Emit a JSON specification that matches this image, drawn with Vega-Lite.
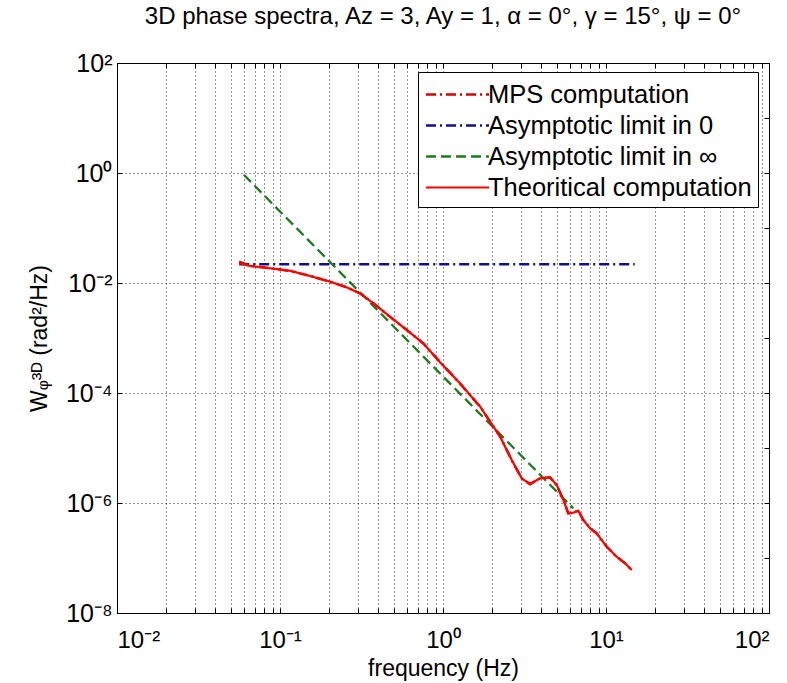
{
  "$schema": "https://vega.github.io/schema/vega-lite/v6.json",
  "autosize": "none",
  "width": 652,
  "height": 550,
  "padding": {"left": 117, "top": 63, "right": 18, "bottom": 70},
  "background": "white",
  "title": {
    "text": "3D phase spectra, Az = 3, Ay = 1, α = 0°, γ = 15°, ψ = 0°",
    "font": "Liberation Sans",
    "fontSize": 24,
    "fontWeight": "normal",
    "color": "black",
    "anchor": "middle",
    "frame": "group",
    "offset": 22
  },
  "config": {
    "view": {"stroke": "black", "strokeWidth": 1},
    "axis": {
      "labelFont": "Liberation Sans",
      "titleFont": "Liberation Sans",
      "labelColor": "black",
      "titleColor": "black",
      "titleFontWeight": "normal",
      "domainColor": "black",
      "tickColor": "black",
      "gridColor": "black",
      "gridDash": [1, 3],
      "gridOpacity": 0.85,
      "gridWidth": 1
    },
    "legend": {
      "orient": "none",
      "legendX": 301,
      "legendY": 9,
      "fillColor": "white",
      "strokeColor": "black",
      "padding": 6,
      "labelFont": "Liberation Sans",
      "labelFontSize": 25.5,
      "labelColor": "black",
      "labelLimit": 500,
      "symbolType": "M-2.1,0H2.1",
      "symbolSize": 900,
      "symbolOffset": 17,
      "symbolStrokeWidth": 2.5,
      "rowPadding": 1,
      "labelOffset": 14
    }
  },
  "datasets": {
    "curves": [
      {"series": "Asymptotic limit in 0", "f": 0.0562, "W": 0.0219},
      {"series": "Asymptotic limit in 0", "f": 15.0, "W": 0.0219},
      {"series": "Asymptotic limit in ∞", "f": 0.06, "W": 0.927},
      {"series": "Asymptotic limit in ∞", "f": 6.3, "W": 8.0e-7},
      {"series": "MPS computation", "f": 0.0562, "W": 0.0245},
      {"series": "MPS computation", "f": 0.0655, "W": 0.0207},
      {"series": "MPS computation", "f": 0.0869, "W": 0.0186},
      {"series": "MPS computation", "f": 0.115, "W": 0.0166},
      {"series": "MPS computation", "f": 0.153, "W": 0.0135},
      {"series": "MPS computation", "f": 0.203, "W": 0.0105},
      {"series": "MPS computation", "f": 0.256, "W": 0.00840},
      {"series": "MPS computation", "f": 0.310, "W": 0.00645},
      {"series": "MPS computation", "f": 0.374, "W": 0.00430},
      {"series": "MPS computation", "f": 0.473, "W": 0.00242},
      {"series": "MPS computation", "f": 0.598, "W": 0.00141},
      {"series": "MPS computation", "f": 0.757, "W": 0.000795},
      {"series": "MPS computation", "f": 0.959, "W": 0.000365},
      {"series": "MPS computation", "f": 1.27, "W": 0.000150},
      {"series": "MPS computation", "f": 1.69, "W": 5.6e-5},
      {"series": "MPS computation", "f": 2.24, "W": 1.62e-5},
      {"series": "MPS computation", "f": 2.64, "W": 6.0e-6},
      {"series": "MPS computation", "f": 3.04, "W": 2.8e-6},
      {"series": "MPS computation", "f": 3.42, "W": 2.2e-6},
      {"series": "MPS computation", "f": 3.94, "W": 2.82e-6},
      {"series": "MPS computation", "f": 4.53, "W": 2.93e-6},
      {"series": "MPS computation", "f": 4.99, "W": 2.1e-6},
      {"series": "MPS computation", "f": 5.47, "W": 1.15e-6},
      {"series": "MPS computation", "f": 5.87, "W": 6.5e-7},
      {"series": "MPS computation", "f": 6.31, "W": 6.7e-7},
      {"series": "MPS computation", "f": 6.76, "W": 7.3e-7},
      {"series": "MPS computation", "f": 7.26, "W": 4.9e-7},
      {"series": "MPS computation", "f": 7.98, "W": 3.5e-7},
      {"series": "MPS computation", "f": 8.77, "W": 2.8e-7},
      {"series": "MPS computation", "f": 10.1, "W": 1.6e-7},
      {"series": "MPS computation", "f": 11.6, "W": 1.06e-7},
      {"series": "MPS computation", "f": 13.1, "W": 8.0e-8},
      {"series": "MPS computation", "f": 14.4, "W": 6.0e-8},
      {"series": "Theoritical computation", "f": 0.0562, "W": 0.0228},
      {"series": "Theoritical computation", "f": 0.0655, "W": 0.0204},
      {"series": "Theoritical computation", "f": 0.0869, "W": 0.0185},
      {"series": "Theoritical computation", "f": 0.115, "W": 0.0167},
      {"series": "Theoritical computation", "f": 0.153, "W": 0.0134},
      {"series": "Theoritical computation", "f": 0.203, "W": 0.0106},
      {"series": "Theoritical computation", "f": 0.256, "W": 0.00834},
      {"series": "Theoritical computation", "f": 0.310, "W": 0.00649},
      {"series": "Theoritical computation", "f": 0.374, "W": 0.00427},
      {"series": "Theoritical computation", "f": 0.473, "W": 0.00244},
      {"series": "Theoritical computation", "f": 0.598, "W": 0.00140},
      {"series": "Theoritical computation", "f": 0.757, "W": 0.000800},
      {"series": "Theoritical computation", "f": 0.959, "W": 0.000363},
      {"series": "Theoritical computation", "f": 1.27, "W": 0.000150},
      {"series": "Theoritical computation", "f": 1.69, "W": 5.65e-5},
      {"series": "Theoritical computation", "f": 2.24, "W": 1.61e-5},
      {"series": "Theoritical computation", "f": 2.64, "W": 6.05e-6},
      {"series": "Theoritical computation", "f": 3.04, "W": 2.81e-6},
      {"series": "Theoritical computation", "f": 3.42, "W": 2.21e-6},
      {"series": "Theoritical computation", "f": 3.94, "W": 2.81e-6},
      {"series": "Theoritical computation", "f": 4.53, "W": 2.93e-6},
      {"series": "Theoritical computation", "f": 4.99, "W": 2.12e-6},
      {"series": "Theoritical computation", "f": 5.47, "W": 1.14e-6},
      {"series": "Theoritical computation", "f": 5.87, "W": 6.49e-7},
      {"series": "Theoritical computation", "f": 6.31, "W": 6.67e-7},
      {"series": "Theoritical computation", "f": 6.76, "W": 7.26e-7},
      {"series": "Theoritical computation", "f": 7.26, "W": 4.91e-7},
      {"series": "Theoritical computation", "f": 7.98, "W": 3.47e-7},
      {"series": "Theoritical computation", "f": 8.77, "W": 2.81e-7},
      {"series": "Theoritical computation", "f": 10.1, "W": 1.61e-7},
      {"series": "Theoritical computation", "f": 11.6, "W": 1.06e-7},
      {"series": "Theoritical computation", "f": 13.1, "W": 8.0e-8},
      {"series": "Theoritical computation", "f": 14.4, "W": 6.05e-8}
    ]
  },
  "data": {"name": "curves"},
  "layer": [
    {
      "mark": {"type": "line", "clip": true},
      "encoding": {
        "x": {
          "field": "f",
          "type": "quantitative",
          "scale": {"type": "log", "domain": [0.01, 100], "nice": false},
          "axis": {
            "orient": "bottom",
            "title": "frequency (Hz)",
            "titleFontSize": 23,
            "titlePadding": 5,
            "labelFontSize": 24,
            "labelPadding": 20,
            "tickSize": -5,
            "grid": true,
            "values": [0.01,0.02,0.03,0.04,0.05,0.06,0.07,0.08,0.09,0.1,0.2,0.3,0.4,0.5,0.6,0.7,0.8,0.9,1,2,3,4,5,6,7,8,9,10,20,30,40,50,60,70,80,90,100],
            "labelExpr": "abs(log(datum.value)/LN10 - round(log(datum.value)/LN10)) < 0.001 ? '10' + (round(log(datum.value)/LN10) < 0 ? '⁻' : '') + substring('⁰¹²³⁴⁵⁶⁷⁸⁹', abs(round(log(datum.value)/LN10)), abs(round(log(datum.value)/LN10)) + 1) : ''"
          }
        },
        "y": {
          "field": "W",
          "type": "quantitative",
          "scale": {"type": "log", "domain": [1e-8, 100], "nice": false},
          "axis": {
            "orient": "left",
            "title": "Wᵩ³ᴰ (rad²/Hz)",
            "titleFontSize": 23,
            "titlePadding": 14,
            "labelFontSize": 25,
            "labelPadding": 10,
            "tickSize": -5,
            "grid": true,
            "values": [100, 1, 0.01, 0.0001, 1e-6, 1e-8],
            "labelExpr": "'10' + (round(log(datum.value)/LN10) < 0 ? '⁻' : '') + substring('⁰¹²³⁴⁵⁶⁷⁸⁹', abs(round(log(datum.value)/LN10)), abs(round(log(datum.value)/LN10)) + 1)"
          }
        },
        "color": {
          "field": "series",
          "type": "nominal",
          "scale": {
            "domain": ["MPS computation", "Asymptotic limit in 0", "Asymptotic limit in ∞", "Theoritical computation"],
            "range": ["#d00000", "#10108c", "#1f7a1f", "#ff0000"]
          },
          "legend": {"title": null}
        },
        "strokeDash": {
          "field": "series",
          "type": "nominal",
          "scale": {
            "domain": ["MPS computation", "Asymptotic limit in 0", "Asymptotic limit in ∞", "Theoritical computation"],
            "range": [[10, 4, 2, 4], [10, 4, 2, 4], [10, 5], [1, 0]]
          },
          "legend": {"title": null}
        },
        "strokeWidth": {
          "field": "series",
          "type": "nominal",
          "scale": {
            "domain": ["MPS computation", "Asymptotic limit in 0", "Asymptotic limit in ∞", "Theoritical computation"],
            "range": [2.5, 2.2, 2.2, 3.5]
          },
          "legend": null
        },
        "order": {"field": "f", "type": "quantitative"}
      }
    },
    {
      "mark": {"type": "line", "opacity": 0},
      "encoding": {
        "x": {
          "field": "f",
          "type": "quantitative",
          "axis": {
            "orient": "top",
            "title": null,
            "labels": false,
            "grid": false,
            "tickSize": -5,
            "values": [0.01,0.02,0.03,0.04,0.05,0.06,0.07,0.08,0.09,0.1,0.2,0.3,0.4,0.5,0.6,0.7,0.8,0.9,1,2,3,4,5,6,7,8,9,10,20,30,40,50,60,70,80,90,100]
          }
        },
        "y": {
          "field": "W",
          "type": "quantitative",
          "axis": {
            "orient": "right",
            "title": null,
            "labels": false,
            "grid": false,
            "tickSize": -5,
            "values": [100, 10, 1, 0.1, 0.01, 0.001, 0.0001, 1e-5, 1e-6, 1e-7, 1e-8]
          }
        },
        "detail": {"field": "series", "type": "nominal"}
      }
    }
  ],
  "resolve": {"axis": {"x": "independent", "y": "independent"}}
}
